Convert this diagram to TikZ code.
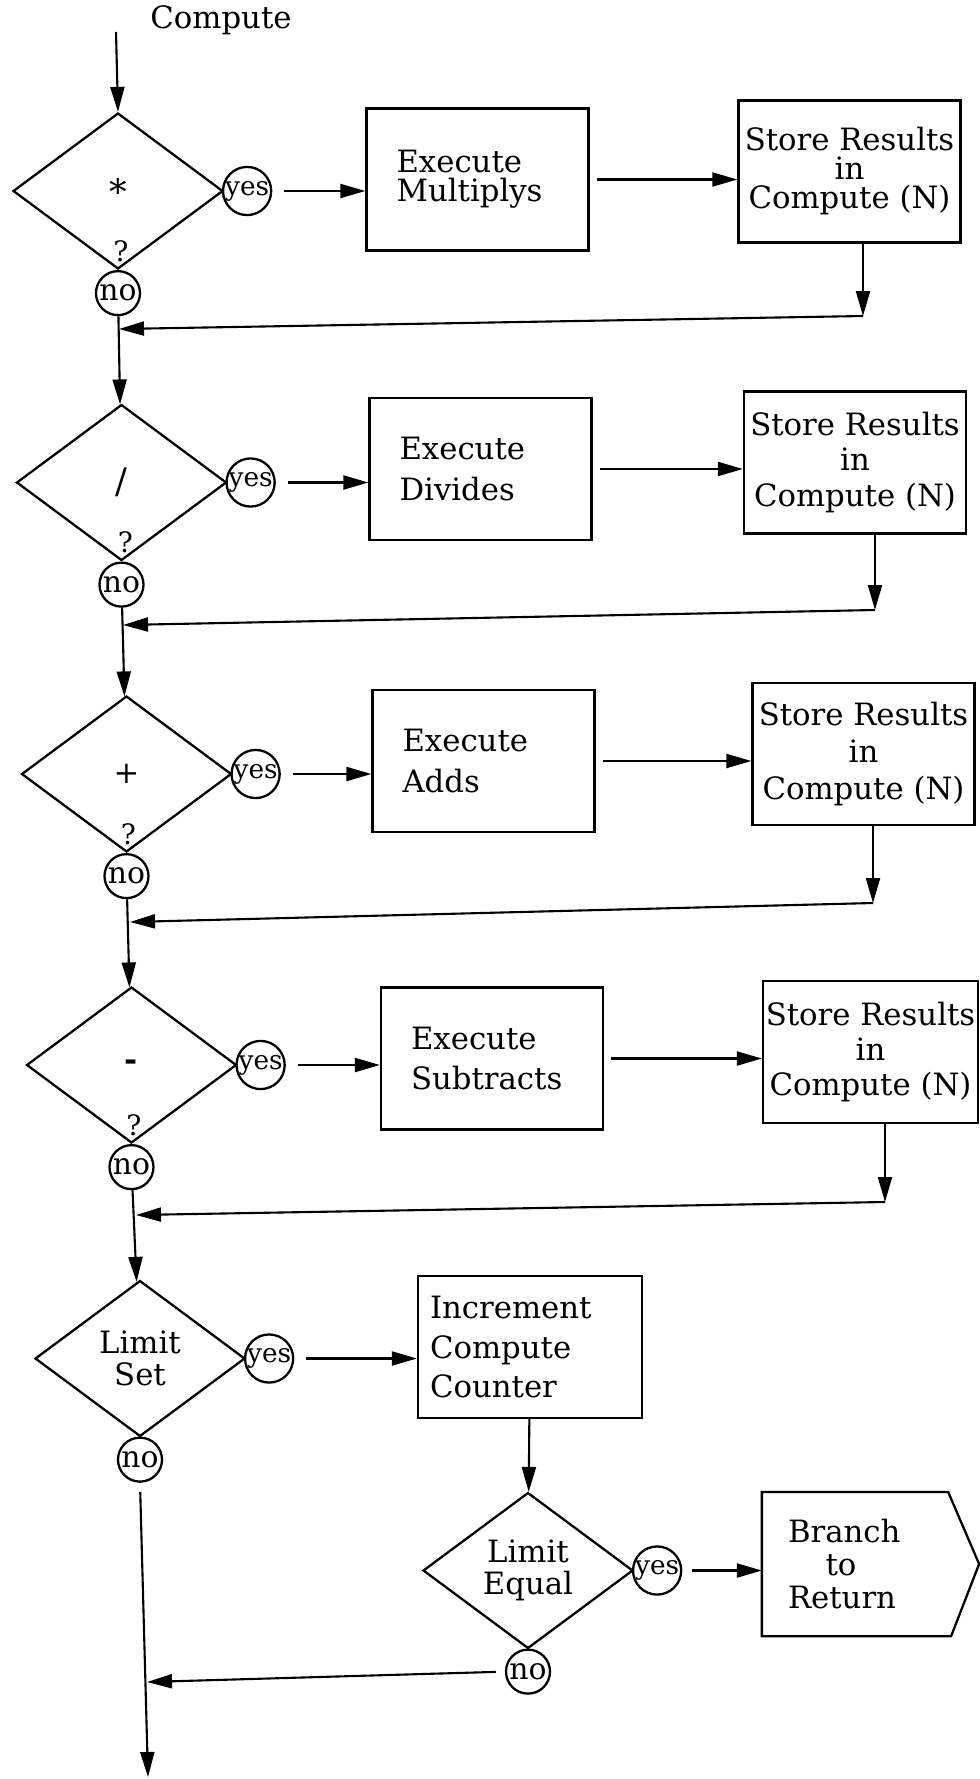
\documentclass[tikz,border=0pt]{standalone}
\usepackage{fontspec}
\setmainfont{DejaVu Serif}
\usepackage{tikz}
\usetikzlibrary{arrows.meta,shapes.geometric}

\begin{document}
\begin{tikzpicture}[x=0.02cm,y=-0.02cm,line width=1.3pt,
	  decision/.style={draw,diamond,aspect=1.35,inner sep=0pt,minimum width=4.2cm,minimum height=3.12cm,align=center,font=\fontsize{17.5}{18}\selectfont},
	  procbox/.style={draw,rectangle,minimum width=4.44cm,minimum height=2.84cm,font=\fontsize{17.5}{20}\selectfont},
	  exbox/.style={procbox,align=left,text width=3.24cm,inner xsep=0.6cm},
	  stbox/.style={procbox,align=center,inner xsep=0.05cm},
	  answer/.style={draw,circle,inner sep=0pt,minimum size=0.88cm,font=\fontsize{17}{17}\selectfont},
	  ansyes/.style={answer,font=\fontsize{15}{15}\selectfont},
	  query/.style={inner sep=0pt,font=\fontsize{16}{16}\selectfont},
	  flow/.style={-{Triangle[length=0.5cm,width=0.28cm]},line width=1.2pt}]
	  \useasboundingbox (0,0) rectangle (980,1779);

	  % entry
	  \node[font=\fontsize{17.5}{17.5}\selectfont] (title) at (221,20) {Compute};
	  \coordinate (entry) at (116,32);

	  % multiply
	  \node[decision,font=\fontsize{20}{20}\selectfont] (d1) at (118,191) {*};
	  \node[query] (q1) at ([xshift=0.06cm,yshift=0.38cm]d1.south) {?};
	  \node[ansyes] (y1) at ([xshift=0.46cm]d1.east) {yes};
	  \node[answer] (n1) at ([yshift=-0.46cm]d1.south) {no};
	  \node[exbox,font=\fontsize{17.5}{16.5}\selectfont] (ex1) at (477.5,179.5) {Execute\\Multiplys};
	  \node[stbox,font=\fontsize{17.5}{16.5}\selectfont] (st1) at (849.5,171.5) {Store Results\\in\\Compute (N)};
	  \coordinate (r1) at (863,316);
	  \coordinate (j1) at (119,329);

	  % divide
	  \node[decision,font=\fontsize{20}{20}\selectfont] (d2) at (121.5,482.5) {/};
	  \node[query] (q2) at ([xshift=0.08cm,yshift=0.38cm]d2.south) {?};
	  \node[ansyes] (y2) at ([xshift=0.46cm]d2.east) {yes};
	  \node[answer] (n2) at ([yshift=-0.46cm]d2.south) {no};
	  \node[exbox,font=\fontsize{17.5}{22.8}\selectfont] (ex2) at (480.5,469) {Execute\\Divides};
	  \node[stbox] (st2) at (855,462.5) {Store Results\\in\\Compute (N)};
	  \coordinate (r2) at (875,610);
	  \coordinate (j2) at (123,625);

	  % add
	  \node[decision] (d3) at (126.5,774) {+};
	  \node[query] (q3) at ([xshift=0.04cm,yshift=0.38cm]d3.south) {?};
	  \node[ansyes] (y3) at ([xshift=0.46cm]d3.east) {yes};
	  \node[answer] (n3) at ([yshift=-0.46cm]d3.south) {no};
	  \node[exbox,font=\fontsize{17.5}{22.8}\selectfont] (ex3) at (483.5,761) {Execute\\Adds};
	  \node[stbox,font=\fontsize{17.5}{21}\selectfont] (st3) at (863.5,754) {Store Results\\in\\Compute (N)};
	  \coordinate (r3) at (873,903);
	  \coordinate (j3) at (130,922);

	  % subtract
	  \node[decision,font=\bfseries\fontsize{18}{18}\selectfont] (d4) at (131.5,1065) {-};
	  \node[query] (q4) at ([xshift=0.05cm,yshift=0.38cm]d4.south) {?};
	  \node[ansyes] (y4) at ([xshift=0.46cm]d4.east) {yes};
	  \node[answer] (n4) at ([yshift=-0.46cm]d4.south) {no};
	  \node[exbox,font=\fontsize{17.5}{22.8}\selectfont] (ex4) at (492,1058.5) {Execute\\Subtracts};
	  \node[stbox,minimum width=4.3cm] (st4) at (870.5,1052) {Store Results\\in\\Compute (N)};
	  \coordinate (r4) at (885,1202);
	  \coordinate (j4) at (136,1215);

	  % limit test
	  \node[decision] (d5) at (140,1358.5) {Limit\\Set};
	  \node[ansyes] (y5) at ([xshift=0.46cm]d5.east) {yes};
	  \node[answer] (n5) at ([yshift=-0.44cm]d5.south) {no};
	  \node[procbox,align=left,text width=4.0cm,inner xsep=0.24cm,font=\fontsize{17.5}{22.5}\selectfont] (inc) at (530,1347) {Increment\\Compute\\Counter};
	  \node[decision] (d6) at (528,1570.5) {Limit\\Equal};
	  \node[ansyes] (y6) at ([xshift=0.46cm]d6.east) {yes};
	  \node[answer] (n6) at ([yshift=-0.44cm]d6.south) {no};
	  \node[minimum width=4.3cm,minimum height=2.84cm,align=left,text width=3.3cm,
	    font=\fontsize{17.5}{19}\selectfont] (br) at (870.5,1564) {Branch\\\hspace*{0.75cm}to\\Return};
	  \draw (br.north west) -- ([xshift=-0.62cm]br.north east) -- (br.east)
	    -- ([xshift=-0.56cm]br.south east) -- (br.south west) -- cycle;
	  \coordinate (j6) at (147,1682);
	  \coordinate (exit) at (148,1777);

	  % connectors
	  \draw[flow] (entry) -- (d1.north);
	  \draw[flow,shorten <=0.24cm] (y1.east) -- (y1.east -| ex1.west);
	  \draw[flow,shorten <=0.14cm] (ex1.east) -- (ex1.east -| st1.west);
	  \draw[flow] (st1.south -| r1) -- (r1);
	  \draw[flow] (r1) -- (j1);
	  \draw[flow] (n1) -- (d2);

	  \draw[flow,shorten <=0.24cm] (y2.east) -- (y2.east -| ex2.west);
	  \draw[flow,shorten <=0.14cm] (ex2.east) -- (ex2.east -| st2.west);
	  \draw[flow] (st2.south -| r2) -- (r2);
	  \draw[flow] (r2) -- (j2);
	  \draw[flow] (n2) -- (d3);

	  \draw[flow,shorten <=0.24cm] (y3.east) -- (y3.east -| ex3.west);
	  \draw[flow,shorten <=0.14cm] (ex3.east) -- (ex3.east -| st3.west);
	  \draw[flow] (st3.south -| r3) -- (r3);
	  \draw[flow] (r3) -- (j3);
	  \draw[flow] (n3) -- (d4);

	  \draw[flow,shorten <=0.24cm] (y4.east) -- (y4.east -| ex4.west);
	  \draw[flow,shorten <=0.14cm] (ex4.east) -- (ex4.east -| st4.west);
	  \draw[flow] (st4.south -| r4) -- (r4);
	  \draw[flow] (r4) -- (j4);
	  \draw[flow] (n4) -- (d5);

	  \draw[flow,shorten <=0.24cm] (y5.east) -- (y5.east -| inc.west);
	  \draw[flow] (inc) -- (d6);
	  \draw[flow,shorten <=0.2cm] (y6.east) -- (y6.east -| br.west);
	  \draw[flow,shorten <=0.18cm] (n6.west) -- (j6);
	  \draw[flow,shorten <=0.18cm] (n5.south) -- (exit);
	\end{tikzpicture}
\end{document}
